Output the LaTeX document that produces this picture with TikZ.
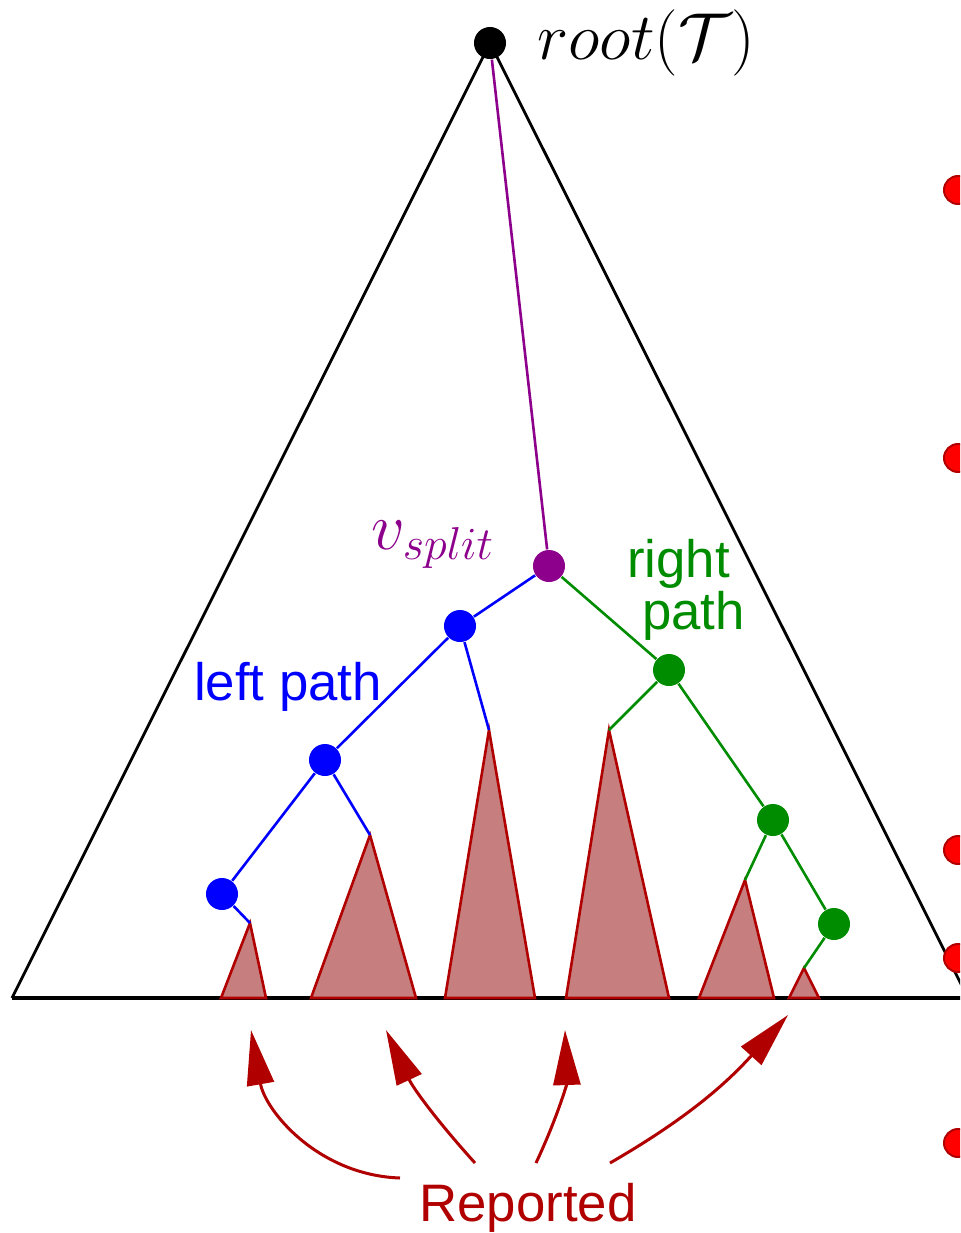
\documentclass[tikz,border=0pt]{standalone}
\usepackage{fontspec}
\newfontfamily\labelfont{Liberation Sans}
\usetikzlibrary{arrows.meta}
\definecolor{pathblue}{RGB}{0,0,255}
\definecolor{pathgreen}{RGB}{0,140,0}
\definecolor{splitpurple}{RGB}{140,0,140}
\definecolor{repred}{RGB}{176,0,0}
\definecolor{subfill}{RGB}{199,126,126}
\definecolor{dotred}{RGB}{255,0,0}
\newcommand{\mathlbl}[1]{\scalebox{0.91}{\huge$#1$}}

\begin{document}
\begin{tikzpicture}[x=0.01cm, y=-0.01cm,
    dot/.style={circle, fill=#1, inner sep=0pt, minimum size=3.2mm},
    subtree/.style={draw=repred, fill=subfill, line width=0.26mm},
    treepath/.style={#1, line width=0.26mm},
    report/.style={repred, line width=0.3mm, -{Triangle[length=5.5mm, width=2.7mm]}},
    lbl/.style={font=\labelfont\fontsize{15}{12.5}\selectfont, inner sep=0pt}]
    \clip (0,0) rectangle (960,1233);

    % the whole tree
    \coordinate (bl) at (12,998);
    \coordinate (br) at (968,998);
    \node[dot=black] (root) at (490,43) {};
    \draw[line width=0.28mm, line join=miter] (bl) -- (root.center) -- (br);
    \draw[line width=0.38mm] (bl) -- (br);
    \node[anchor=west, inner sep=0pt] (rootlbl) at (537,43) {\mathlbl{root(\mathcal{T})}};

    % points outside
    \foreach \y in {190,458,850,958,1143}
        \draw[draw=repred, fill=dotred, line width=0.2mm] (958,\y) circle (1.4mm);

    % reported subtrees
    \draw[subtree] (221,998) -- (250,923) coordinate (t1) -- (266,998) -- cycle;
    \draw[subtree] (311,998) -- (370,835) coordinate (t2) -- (416,998) -- cycle;
    \draw[subtree] (445,998) -- (489,730) coordinate (t3) -- (535,998) -- cycle;
    \draw[subtree] (566,998) -- (609,730) coordinate (t4) -- (669,998) -- cycle;
    \draw[subtree] (699,998) -- (745,880) coordinate (t5) -- (774,998) -- cycle;
    \draw[subtree] (789,998) -- (804,968) coordinate (t6) -- (819,998) -- cycle;

    % split node and the two paths
    \node[dot=splitpurple] (split) at (549,566) {};
    \node[dot=pathblue] (b1) at (460,626) {};
    \node[dot=pathblue] (b2) at (325,760) {};
    \node[dot=pathblue] (b3) at (222,894) {};
    \node[dot=pathgreen] (g1) at (669,670) {};
    \node[dot=pathgreen] (g2) at (773,820) {};
    \node[dot=pathgreen] (g3) at (834,924) {};

    \draw[treepath=splitpurple] (root) -- (split);
    \draw[treepath=pathblue] (split) -- (b1) -- (b2) -- (b3);
    \draw[treepath=pathblue] (b1) -- (t3) (b2) -- (t2) (b3) -- (t1);
    \draw[treepath=pathgreen] (split) -- (g1) -- (g2) -- (g3);
    \draw[treepath=pathgreen] (g1) -- (t4) (g2) -- (t5) (g3) -- (t6);

    % labels
    \node[splitpurple, inner sep=0pt] (splitlbl) at (433,545) {\mathlbl{v_{split}}};
    \node[lbl, pathblue] (leftlbl) at (288,687) {left path};
    \node[lbl, pathgreen, align=left] (rightlbl) at (686,590) {right\\\ path};

    % reported arrows
    \node[lbl, repred] (rep) at (528,1208) {Reported};
    \coordinate (s1) at (400,1178);
    \coordinate (s2) at (475,1163);
    \coordinate (s3) at (536,1163);
    \coordinate (s4) at (610,1163);
    \coordinate (h1) at (251,1030);
    \coordinate (h2) at (386,1030);
    \coordinate (h3) at (565,1030);
    \coordinate (h4) at (788,1015);
    \draw[report] (s1) to[out=178, in=-80] (h1);
    \draw[report] (s2) to[out=132, in=-65] (h2);
    \draw[report] (s3) to[out=65, in=-88] (h3);
    \draw[report] (s4) to[out=30, in=-132] (h4);
\end{tikzpicture}
\end{document}
